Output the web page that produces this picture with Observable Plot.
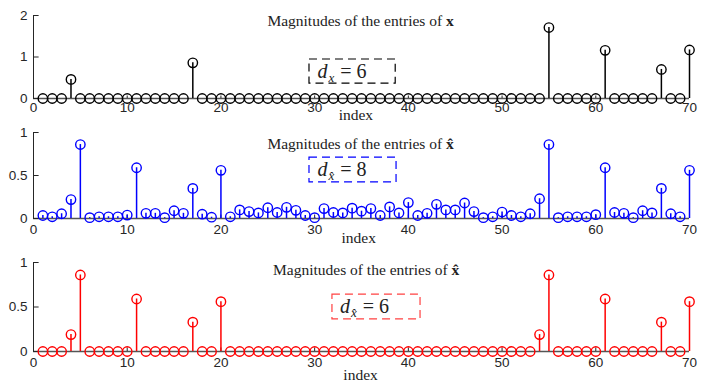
<!DOCTYPE html>
<html><head><meta charset="utf-8">
<script src="https://cdn.jsdelivr.net/npm/d3@7"></script>
<script src="https://cdn.jsdelivr.net/npm/@observablehq/plot@0.6"></script>
<style>
body{margin:0;background:#fff;}
#chart{width:701px;height:382px;background:#fff;}
#chart svg{display:block;}
</style></head><body><div id="chart"></div>
<script>
// index 1..70
const indexList = [1,2,3,4,5,6,7,8,9,10,11,12,13,14,15,16,17,18,19,20,21,22,23,24,25,26,27,28,29,30,31,32,33,34,35,36,37,38,39,40,41,42,43,44,45,46,47,48,49,50,51,52,53,54,55,56,57,58,59,60,61,62,63,64,65,66,67,68,69,70];
const xTickValues = [0,10,20,30,40,50,60,70];

// magnitudes of x (true signal)
const magX = [0,0,0,0.46,0,0,0,0,0,0, 0,0,0,0,0,0,0.86,0,0,0, 0,0,0,0,0,0,0,0,0,0, 0,0,0,0,0,0,0,0,0,0, 0,0,0,0,0,0,0,0,0,0, 0,0,0,0,1.71,0,0,0,0,0, 1.16,0,0,0,0,0,0.70,0,0,1.17];
// magnitudes of x-hat (blue)
const magXhatBlue = [0.035,0.02,0.055,0.22,0.86,0.01,0.02,0.02,0.02,0.04, 0.59,0.06,0.06,0.01,0.09,0.06,0.35,0.05,0.015,0.56, 0.02,0.10,0.08,0.065,0.125,0.07,0.13,0.095,0.035,0.01, 0.115,0.07,0.065,0.12,0.085,0.115,0.035,0.135,0.065,0.185, 0.035,0.06,0.165,0.10,0.10,0.18,0.08,0.01,0.02,0.075, 0.035,0.02,0.055,0.23,0.86,0.01,0.02,0.02,0.02,0.045, 0.59,0.07,0.06,0.01,0.09,0.065,0.35,0.055,0.02,0.56];
// magnitudes of x-hat (red)
const magXhatRed = [0,0,0,0.19,0.86,0,0,0,0,0, 0.59,0,0,0,0,0,0.33,0,0,0.56, 0,0,0,0,0,0,0,0,0,0, 0,0,0,0,0,0,0,0,0,0, 0,0,0,0,0,0,0,0,0,0, 0,0,0,0.19,0.86,0,0,0,0,0, 0.59,0,0,0,0,0,0.33,0,0,0.56];

const titleText = "Magnitudes of the entries of ";
const boldSymbols = ["x", "x\u0302", "x\u0302"];
const subSymbols = ["x", "x\u0302", "x\u0302"];
const dValues = ["6", "8", "6"];
const colors = ["#000000", "#0000ff", "#ff0000"];
const yMaxes = [2, 1, 1];
const yTickSets = [[0,1,2],[0,0.5,1],[0,0.5,1]];

const SERIF = "'Liberation Serif','Times New Roman',serif";

function panel(k, cfg) {
  const data = indexList.map((idx, i) => ({idx, v: cfg.values[i]}));
  const yMax = yMaxes[k];
  const color = colors[k];
  const svg = Plot.plot({
    width: 701, height: cfg.height,
    marginLeft: 33, marginRight: 12, marginTop: cfg.mt, marginBottom: cfg.mb,
    x: {domain: [0, 70]},
    y: {domain: [0, yMax]},
    style: {fontFamily: "'Liberation Sans', Arial, sans-serif", fontSize: "13px", color: "#262626", background: "white", overflow: "visible"},
    marks: [
      Plot.axisX(xTickValues, {tickSize: 0, tickPadding: cfg.xpad, fontSize: 13.5, label: null}),
      Plot.axisY(yTickSets[k], {tickSize: 0, tickPadding: 6, fontSize: 13.5, label: null, tickFormat: d => String(d)}),
      Plot.ruleY([0], {x1: 0, x2: 70, stroke: "#555", strokeWidth: 1.5}),
      Plot.ruleX([0], {y1: 0, y2: yMax, stroke: "#262626", strokeWidth: 1}),
      Plot.ruleY(yTickSets[k], {x1: 0, x2: 0.6, stroke: "#262626"}),
      Plot.ruleX(xTickValues.filter(t => t > 0), {y1: 0, y2: yMax * cfg.tickLen, stroke: "#262626"}),
      Plot.ruleX(data, {x: "idx", y1: 0, y2: "v", stroke: color, strokeWidth: 1.5}),
      Plot.dot(data, {x: "idx", y: "v", r: 4.7, stroke: color, strokeWidth: 1.4, fill: "none"}),
      Plot.text([titleText], {x: cfg.titleX, y: cfg.titleY, text: d => d, fontFamily: SERIF, fontSize: 15.5, fill: "#222", textAnchor: "middle"}),
      Plot.rect([0], {x1: cfg.box[0], x2: cfg.box[1], y1: cfg.box[2], y2: cfg.box[3], fill: "none", stroke: color, strokeOpacity: k === 2 ? 0.75 : 1, strokeWidth: 1.2, strokeDasharray: "8,5"}),
      Plot.text(["d"], {x: cfg.dX, y: cfg.dY, text: d => d, fontFamily: SERIF, fontSize: 20, fill: "#222", textAnchor: "start"}),
      Plot.text(["index"], {x: cfg.indexX, y: cfg.indexY, text: d => d, fontFamily: SERIF, fontSize: 15.5, fill: "#222", textAnchor: "middle"})
    ]
  });
  const s = d3.select(svg);
  s.selectAll("text").each(function() {
    const t = d3.select(this);
    if (this.textContent === titleText) {
      t.append("tspan").attr("font-weight", "bold").text(boldSymbols[k]);
    } else if (this.textContent === "d") {
      t.style("font-style", "italic");
      t.append("tspan").attr("font-size", 13).attr("dy", 4).attr("dx", 1).text(subSymbols[k]);
      t.append("tspan").attr("dy", -4).attr("dx", 6).style("font-style", "normal").text("= " + dValues[k]);
    }
  });
  return svg;
}

const chart = document.getElementById("chart");
chart.append(panel(0, {values: magX, height: 124, mt: 15, mb: 26, xpad: 4, tickLen: 0.03,
  titleX: 34.9, titleY: 1.86, box: [29.45, 38.65, 0.94, 0.36], dX: 30.3, dY: 0.64, indexX: 34.4, indexY: -0.40}));
chart.append(panel(1, {values: magXhatBlue, height: 122, mt: 8, mb: 28, xpad: 6, tickLen: 0.04,
  titleX: 34.9, titleY: 0.87, box: [29.45, 38.74, 0.709, 0.419], dX: 30.3, dY: 0.565, indexX: 34.7, indexY: -0.23}));
chart.append(panel(2, {values: magXhatRed, height: 136, mt: 16, mb: 31, xpad: 6, tickLen: 0.04,
  titleX: 35.5, titleY: 0.92, box: [31.9, 41.3, 0.64, 0.36], dX: 32.7, dY: 0.50, indexX: 34.9, indexY: -0.265}));
</script></body></html>
